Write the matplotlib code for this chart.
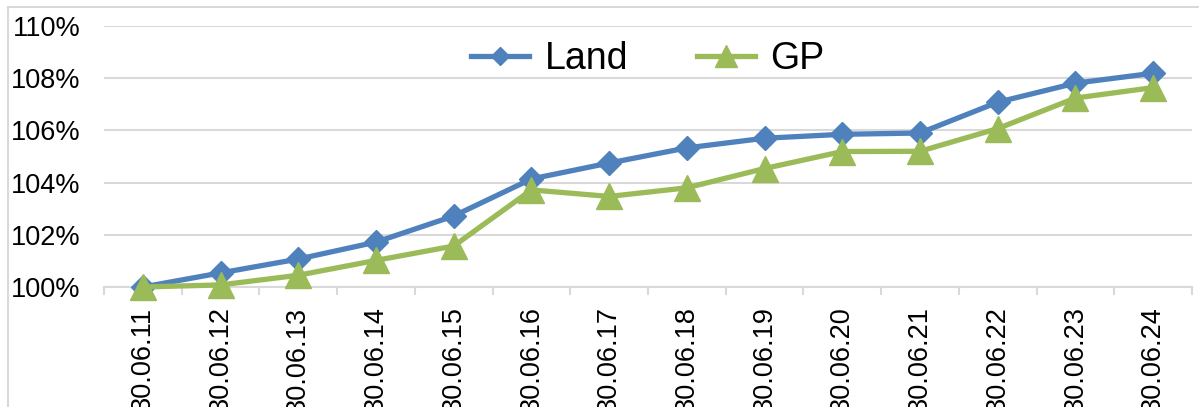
import matplotlib
matplotlib.use("Agg")
import matplotlib.pyplot as plt
from matplotlib.patches import Rectangle
from matplotlib.ticker import FuncFormatter, MultipleLocator

# data (index, 30.06.11 = 100%)
dates = ["30.06.11", "30.06.12", "30.06.13", "30.06.14", "30.06.15", "30.06.16", "30.06.17",
         "30.06.18", "30.06.19", "30.06.20", "30.06.21", "30.06.22", "30.06.23", "30.06.24"]
land = [100.0, 100.54, 101.07, 101.72, 102.72, 104.14, 104.75,
        105.33, 105.70, 105.85, 105.90, 107.08, 107.81, 108.19]
gp = [100.0, 100.08, 100.45, 101.02, 101.57, 103.72, 103.47,
      103.80, 104.54, 105.19, 105.20, 106.07, 107.24, 107.64]

BLUE = "#4F81BD"
GREEN = "#9BBB59"
GRID = "#D9D9D9"

plt.rcParams["font.family"] = ["Liberation Sans", "DejaVu Sans"]

fig = plt.figure(figsize=(11.99, 4.07), dpi=100)
ax = fig.add_axes([104 / 1199, 1 - 287 / 407, (1192 - 104) / 1199, 261 / 407])

# outer chart frame (right/bottom run off the image)
fig.patches.append(Rectangle((8 / 1199, -0.1), 1.2, 1 - 6.5 / 407 + 0.1, transform=fig.transFigure,
                             fill=False, edgecolor=GRID, lw=1.5))

x = range(len(dates))
ax.plot(x, land, color=BLUE, lw=3.8, marker="D", ms=12, label="Land", clip_on=False, zorder=3)
ax.plot(x, gp, color=GREEN, lw=3.8, marker="^", ms=19, label="GP", clip_on=False, zorder=4)

ax.set_xlim(-0.5, len(dates) - 0.5)
ax.set_ylim(100, 110)
ax.yaxis.set_major_locator(MultipleLocator(2))
ax.yaxis.set_major_formatter(FuncFormatter(lambda v, p: f"{v:.0f}%"))
ax.grid(axis="y", color=GRID, lw=1.5)
ax.set_axisbelow(True)

ax.set_xticks(list(x))
ax.set_xticklabels(dates, rotation=90)
ax.set_xticks([i - 0.5 for i in range(len(dates) + 1)], minor=True)
ax.tick_params(axis="x", which="major", length=0, pad=14, labelsize=19.5)
ax.tick_params(axis="x", which="minor", length=5.5, width=1.5, color=GRID)
ax.tick_params(axis="y", length=0, pad=17, labelsize=19.5)

for side in ["left", "right", "top"]:
    ax.spines[side].set_visible(False)
ax.spines["bottom"].set_color(GRID)
ax.spines["bottom"].set_linewidth(1.5)

ax.legend(loc="center", bbox_to_anchor=(0.5, 0.873), ncol=2, frameon=False, fontsize=27,
          handlelength=1.55, handletextpad=0.4, columnspacing=1.85, markerscale=0.8)

plt.savefig("out.png", dpi=100)
